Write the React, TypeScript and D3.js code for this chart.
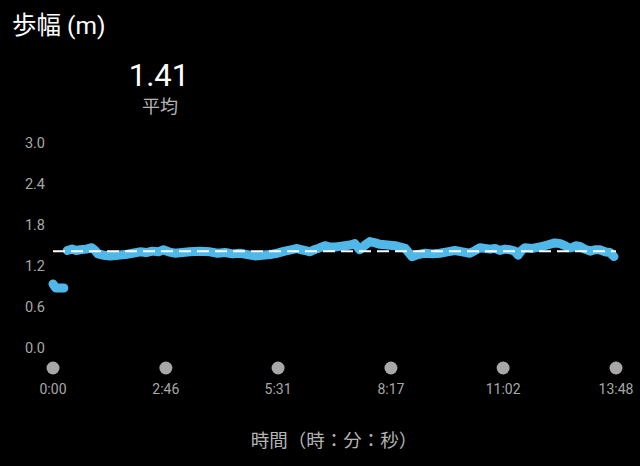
import React from "react";
import * as d3 from "d3";

// seconds from start, stride length (m); null = gap in the recording
const seconds = [
  0, 2, 4, 10, 16, 18,
  21, 28, 34, 40, 49, 57, 62, 66, 75, 84, 95, 106, 117, 128, 137, 146, 155,
  162, 170, 179, 190, 201, 216, 231, 242, 253, 264, 275, 286, 297, 308, 319,
  330, 341, 350, 359, 365, 371, 378, 384, 390, 400, 408, 415, 422, 429, 437,
  444, 451, 459, 466, 474, 481, 492, 503, 511, 518, 528, 537, 547, 558, 569,
  580, 591, 602, 613, 621, 628, 643, 650, 657, 665, 672, 679, 684, 689, 694,
  705, 716, 727, 738, 746, 753, 758, 763, 769, 775, 782, 790, 797, 804, 812,
  819, 825,
];
const stride: (number | null)[] = [
  0.93, 0.9, 0.87, 0.87, 0.87, null,
  1.42, 1.44, 1.42, 1.43, 1.44, 1.46, 1.42, 1.37, 1.35, 1.34, 1.35, 1.36,
  1.38, 1.4, 1.39, 1.41, 1.4, 1.43, 1.4, 1.38, 1.39, 1.4, 1.41, 1.4, 1.38,
  1.39, 1.37, 1.38, 1.36, 1.34, 1.35, 1.36, 1.38, 1.41, 1.43, 1.45, 1.43,
  1.42, 1.4, 1.43, 1.45, 1.49, 1.47, 1.47, 1.48, 1.49, 1.5, 1.52, 1.43, 1.5,
  1.55, 1.53, 1.51, 1.5, 1.49, 1.47, 1.45, 1.33, 1.36, 1.38, 1.37, 1.38,
  1.4, 1.42, 1.4, 1.38, 1.42, 1.46, 1.44, 1.45, 1.42, 1.44, 1.43, 1.41, 1.35,
  1.42, 1.46, 1.45, 1.47, 1.5, 1.53, 1.52, 1.49, 1.46, 1.46, 1.49, 1.48,
  1.44, 1.41, 1.43, 1.43, 1.4, 1.39, 1.33,
];
const average = 1.41;
const yTicks = [0, 0.6, 1.2, 1.8, 2.4, 3.0];
const xTicks = [0, 166, 331, 497, 662, 828];
const xTickLabels = ["0:00", "2:46", "5:31", "8:17", "11:02", "13:48"];

const W = 640;
const H = 466;
const latin = "Roboto, 'Noto Sans', sans-serif";
const cjk = "Roboto, 'Noto Sans CJK JP', sans-serif";

export default function App() {
  const x = d3.scaleLinear().domain([0, 828]).range([53, 616]);
  const y = d3.scaleLinear().domain([0, 3]).range([347.5, 142.5]);

  const pts = seconds.map((t, i) => ({ t, v: stride[i] }));
  const line = d3
    .line<{ t: number; v: number | null }>()
    .defined((d) => d.v !== null)
    .x((d) => x(d.t))
    .y((d) => y(d.v as number));

  return (
    <svg
      width={W}
      height={H}
      style={{ position: "absolute", left: 0, top: 0, background: "#000" }}
    >
      <rect width={W} height={H} fill="#000" />
      <text x={12} y={34} fill="#fff" fontSize={24.5} fontFamily={cjk}>
        歩幅 (m)
      </text>
      <text
        x={159}
        y={86}
        fill="#fff"
        fontSize={31}
        textAnchor="middle"
        fontFamily={latin}
      >
        {average.toFixed(2)}
      </text>
      <text
        x={160}
        y={113}
        fill="#b4b4b4"
        fontSize={18}
        textAnchor="middle"
        fontFamily={cjk}
      >
        平均
      </text>

      {yTicks.map((v) => (
        <text
          key={v}
          x={45}
          y={y(v)}
          dy="0.35em"
          fill="#a8a8a8"
          fontSize={14.5}
          textAnchor="end"
          fontFamily={latin}
        >
          {v.toFixed(1)}
        </text>
      ))}

      <path
        d={line(pts) ?? ""}
        fill="none"
        stroke="#4fb8e8"
        strokeWidth={9}
        strokeLinecap="round"
        strokeLinejoin="round"
      />
      <line
        x1={x(0)}
        x2={x(828)}
        y1={y(average)}
        y2={y(average)}
        stroke="#fff"
        strokeWidth={2}
        strokeDasharray="12 6"
      />

      {xTicks.map((t, i) => (
        <g key={t}>
          <circle cx={x(t)} cy={368} r={6.5} fill="#a8a8a8" />
          <text
            x={x(t)}
            y={389}
            dy="0.35em"
            fill="#a8a8a8"
            fontSize={14}
            textAnchor="middle"
            fontFamily={latin}
          >
            {xTickLabels[i]}
          </text>
        </g>
      ))}

      <text
        x={334}
        y={447}
        fill="#b4b4b4"
        fontSize={18.5}
        textAnchor="middle"
        fontFamily={cjk}
      >
        時間（時：分：秒）
      </text>
    </svg>
  );
}
